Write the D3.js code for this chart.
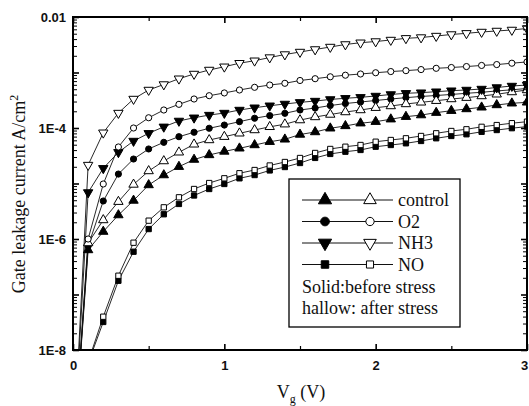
<!DOCTYPE html>
<html>
<head>
<meta charset="utf-8">
<script src="https://cdn.jsdelivr.net/npm/d3@7"></script>
<style>
  body { margin: 0; background: #fff; }
  svg { display: block; }
</style>
</head>
<body>
<svg id="chart" width="529" height="406"></svg>
<script>
// Gate voltage (V), one point every 0.1 V
const vg = [0, 0.1, 0.2, 0.3, 0.4, 0.5, 0.6, 0.7, 0.8, 0.9, 1.0,
            1.1, 1.2, 1.3, 1.4, 1.5, 1.6, 1.7, 1.8, 1.9, 2.0,
            2.1, 2.2, 2.3, 2.4, 2.5, 2.6, 2.7, 2.8, 2.9, 3.0];

// Leakage current density (A/cm^2)
const controlBefore = [1e-10, 6.34e-7, 1.36e-6, 2.70e-6, 4.94e-6, 9.4e-6, 1.42e-5, 2.01e-5, 2.70e-5, 3.27e-5, 3.78e-5,
    4.31e-5, 4.94e-5, 5.66e-5, 6.25e-5, 7.64e-5, 8.47e-5, 9.89e-5, 1.09e-4, 1.22e-4, 1.30e-4,
    1.44e-4, 1.60e-4, 1.71e-4, 1.89e-4, 2.05e-4, 2.20e-4, 2.36e-4, 2.60e-4, 2.79e-4, 2.90e-4];
const controlAfter = [1e-10, 8.47e-7, 2.2e-6, 4.7e-6, 9.6e-6, 1.68e-5, 2.54e-5, 3.65e-5, 5.08e-5, 6.08e-5, 6.97e-5,
    8.03e-5, 9.2e-5, 1.05e-4, 1.17e-4, 1.39e-4, 1.58e-4, 1.75e-4, 1.94e-4, 2.11e-4, 2.32e-4,
    2.49e-4, 2.71e-4, 2.90e-4, 3.10e-4, 3.33e-4, 3.52e-4, 3.77e-4, 4.05e-4, 4.45e-4, 4.84e-4];
const o2Before = [1e-10, 7.48e-7, 4.84e-6, 1.48e-5, 2.76e-5, 4.19e-5, 5.52e-5, 6.97e-5, 8.38e-5, 9.89e-5, 1.13e-4,
    1.30e-4, 1.50e-4, 1.67e-4, 1.84e-4, 2.11e-4, 2.29e-4, 2.54e-4, 2.76e-4, 2.94e-4, 3.13e-4,
    3.33e-4, 3.52e-4, 3.70e-4, 3.85e-4, 4.02e-4, 4.22e-4, 4.40e-4, 4.65e-4, 4.88e-4, 5.15e-4];
const o2After = [1e-10, 1.0e-6, 9.8e-6, 4.55e-5, 1.0e-4, 1.53e-4, 2.11e-4, 2.67e-4, 3.33e-4, 3.82e-4, 4.28e-4,
    4.84e-4, 5.41e-4, 5.95e-4, 6.39e-4, 7.18e-4, 7.73e-4, 8.37e-4, 8.94e-4, 9.4e-4, 9.9e-4,
    1.04e-3, 1.08e-3, 1.13e-3, 1.19e-3, 1.23e-3, 1.28e-3, 1.34e-3, 1.39e-3, 1.47e-3, 1.55e-3];
const nh3Before = [1e-10, 6.89e-6, 1.88e-5, 3.65e-5, 5.83e-5, 8.03e-5, 1.05e-4, 1.34e-4, 1.53e-4, 1.71e-4, 1.86e-4,
    2.11e-4, 2.32e-4, 2.52e-4, 2.71e-4, 2.90e-4, 3.06e-4, 3.27e-4, 3.43e-4, 3.57e-4, 3.77e-4,
    4.02e-4, 4.22e-4, 4.33e-4, 4.51e-4, 4.70e-4, 4.84e-4, 5.04e-4, 5.37e-4, 5.71e-4, 5.95e-4];
const nh3After = [1e-10, 2.15e-5, 8.22e-5, 1.86e-4, 3.33e-4, 4.84e-4, 6.08e-4, 7.73e-4, 9.4e-4, 1.11e-3, 1.27e-3,
    1.47e-3, 1.63e-3, 1.86e-3, 2.11e-3, 2.34e-3, 2.60e-3, 2.88e-3, 3.20e-3, 3.44e-3, 3.62e-3,
    3.85e-3, 4.13e-3, 4.27e-3, 4.54e-3, 4.84e-3, 5.08e-3, 5.37e-3, 5.60e-3, 5.84e-3, 6.21e-3];
const noBefore = [1e-10, 5.8e-9, 3.2e-8, 1.77e-7, 5.9e-7, 1.51e-6, 2.79e-6, 4.28e-6, 6.08e-6, 7.96e-6, 9.8e-6,
    1.24e-5, 1.42e-5, 1.72e-5, 1.98e-5, 2.34e-5, 2.89e-5, 3.41e-5, 3.74e-5, 4.02e-5, 4.6e-5,
    4.94e-5, 5.3e-5, 5.84e-5, 6.53e-5, 7.18e-5, 7.71e-5, 8.54e-5, 9.19e-5, 9.92e-5, 1.06e-4];
const noAfter = [1e-10, 6.08e-9, 3.98e-8, 2.18e-7, 8.57e-7, 2.14e-6, 3.72e-6, 5.64e-6, 7.96e-6, 1.02e-5, 1.24e-5,
    1.53e-5, 1.75e-5, 2.11e-5, 2.44e-5, 2.88e-5, 3.55e-5, 4.19e-5, 4.6e-5, 4.94e-5, 5.66e-5,
    6.08e-5, 6.52e-5, 7.18e-5, 8.03e-5, 8.83e-5, 9.48e-5, 1.05e-4, 1.13e-4, 1.22e-4, 1.30e-4];

// Axis ticks
const xMajorTicks = [0, 1, 2, 3];
const xMinorTicks = [0.5, 1.5, 2.5];
const yDecades = [1e-8, 1e-7, 1e-6, 1e-5, 1e-4, 1e-3, 1e-2];
const yTickLabels = { 1e-8: '1E-8', 1e-6: '1E-6', 1e-4: '1E-4', 1e-2: '0.01' };

// Legend entries
const legendNames = ['control', 'O2', 'NH3', 'NO'];
const legendNotes = ['Solid:before stress', 'hallow: after stress'];

const serif = '"Liberation Serif", "Times New Roman", serif';
const sans = '"Liberation Sans", Arial, sans-serif';

const svg = d3.select('#chart');
const plot = { left: 73, right: 527, top: 17, bottom: 350 };

const x = d3.scaleLinear().domain([0, 3]).range([plot.left, plot.right]);
const y = d3.scaleLog().domain([1e-8, 1e-2]).range([plot.bottom, plot.top]);

// Marker shapes
const shapes = {
    up:     { type: d3.symbolTriangle, rot: 0,   size: 38 },
    down:   { type: d3.symbolTriangle, rot: 180, size: 38 },
    circle: { type: d3.symbolCircle,   rot: 0,   size: 30 },
    square: { type: d3.symbolSquare,   rot: 0,   size: 28 }
};

// Drawing order matters where markers overlap on the right side
const series = [
    { values: noBefore,      shape: 'square', filled: true },
    { values: noAfter,       shape: 'square', filled: false },
    { values: controlBefore, shape: 'up',     filled: true },
    { values: o2Before,      shape: 'circle', filled: true },
    { values: controlAfter,  shape: 'up',     filled: false },
    { values: nh3Before,     shape: 'down',   filled: true },
    { values: o2After,       shape: 'circle', filled: false },
    { values: nh3After,      shape: 'down',   filled: false }
];

svg.append('defs').append('clipPath')
    .attr('id', 'plot-clip')
    .append('rect')
    .attr('x', plot.left)
    .attr('y', plot.top)
    .attr('width', plot.right - plot.left)
    .attr('height', plot.bottom - plot.top);

const dataLayer = svg.append('g').attr('clip-path', 'url(#plot-clip)');

const line = d3.line()
    .x((d, i) => x(vg[i]))
    .y(d => y(d));

// Lines first, then markers on top
series.forEach(s => {
    dataLayer.append('path')
        .datum(s.values)
        .attr('d', line)
        .attr('fill', 'none')
        .attr('stroke', '#111')
        .attr('stroke-width', 0.9);
});

function drawMarker(g, shapeKey, filled, cx, cy, scale) {
    const sh = shapes[shapeKey];
    g.append('path')
        .attr('d', d3.symbol().type(sh.type).size(sh.size * scale)())
        .attr('transform', `translate(${cx},${cy}) rotate(${sh.rot})`)
        .attr('fill', filled ? '#000' : '#fff')
        .attr('stroke', '#000')
        .attr('stroke-width', 1);
}

series.forEach(s => {
    const g = dataLayer.append('g');
    s.values.forEach((v, i) => {
        drawMarker(g, s.shape, s.filled, x(vg[i]), y(v), 1);
    });
});

// Axes (ticks point inward)
function styleAxis(g, width) {
    g.select('.domain').remove();
    g.selectAll('line').attr('stroke', '#000').attr('stroke-width', width);
    g.selectAll('text')
        .style('font-family', sans)
        .style('font-size', '13px')
        .style('font-weight', 'bold')
        .attr('fill', '#111');
}

svg.append('g')
    .attr('transform', `translate(0,${plot.bottom})`)
    .call(d3.axisBottom(x).tickValues(xMajorTicks).tickSize(-6).tickSizeOuter(0)
        .tickPadding(11).tickFormat(d3.format('d')))
    .call(g => styleAxis(g, 1.6))
    // last label sits on the window edge; nudge it in so it stays whole
    .call(g => g.selectAll('text').filter(d => d === 3).attr('x', -3));
svg.append('g')
    .attr('transform', `translate(0,${plot.bottom})`)
    .call(d3.axisBottom(x).tickValues(xMinorTicks).tickSize(-4).tickSizeOuter(0).tickFormat(''))
    .call(g => styleAxis(g, 1.2));
svg.append('g')
    .attr('transform', `translate(0,${plot.top})`)
    .call(d3.axisTop(x).tickValues(xMajorTicks).tickSize(-6).tickSizeOuter(0).tickFormat(''))
    .call(g => styleAxis(g, 1.6));
svg.append('g')
    .attr('transform', `translate(0,${plot.top})`)
    .call(d3.axisTop(x).tickValues(xMinorTicks).tickSize(-4).tickSizeOuter(0).tickFormat(''))
    .call(g => styleAxis(g, 1.2));

const yMinorTicks = y.ticks().filter(t => !yDecades.some(d => Math.abs(t / d - 1) < 1e-6));

svg.append('g')
    .attr('transform', `translate(${plot.left},0)`)
    .call(d3.axisLeft(y).tickValues(yDecades).tickSize(-6).tickSizeOuter(0)
        .tickPadding(7).tickFormat(d => yTickLabels[d] || ''))
    .call(g => styleAxis(g, 1.6));
svg.append('g')
    .attr('transform', `translate(${plot.left},0)`)
    .call(d3.axisLeft(y).tickValues(yMinorTicks).tickSize(-4).tickSizeOuter(0).tickFormat(''))
    .call(g => styleAxis(g, 1));
svg.append('g')
    .attr('transform', `translate(${plot.right},0)`)
    .call(d3.axisRight(y).tickValues(yDecades).tickSize(-6).tickSizeOuter(0).tickFormat(''))
    .call(g => styleAxis(g, 1.6));
svg.append('g')
    .attr('transform', `translate(${plot.right},0)`)
    .call(d3.axisRight(y).tickValues(yMinorTicks).tickSize(-4).tickSizeOuter(0).tickFormat(''))
    .call(g => styleAxis(g, 1));

// Frame
svg.append('rect')
    .attr('x', plot.left)
    .attr('y', plot.top)
    .attr('width', plot.right - plot.left)
    .attr('height', plot.bottom - plot.top)
    .attr('fill', 'none')
    .attr('stroke', '#000')
    .attr('stroke-width', 2);

// Axis titles
const yTitle = svg.append('text')
    .attr('transform', 'translate(25,194) rotate(-90)')
    .attr('text-anchor', 'middle')
    .style('font-family', serif)
    .style('font-size', '18px')
    .attr('fill', '#111');
yTitle.append('tspan').text('Gate leakage current A/cm');
yTitle.append('tspan').attr('dy', -7).style('font-size', '12px').text('2');

const xTitle = svg.append('text')
    .attr('x', 301)
    .attr('y', 398)
    .attr('text-anchor', 'middle')
    .style('font-family', serif)
    .style('font-size', '18px')
    .attr('fill', '#111');
xTitle.append('tspan').text('V');
xTitle.append('tspan').attr('dy', 5).style('font-size', '12px').text('g');
xTitle.append('tspan').attr('dy', -5).text(' (V)');

// Legend
const legend = svg.append('g').attr('class', 'chart-legend');
legend.append('rect')
    .attr('x', 289)
    .attr('y', 179)
    .attr('width', 171)
    .attr('height', 148)
    .attr('fill', '#fff')
    .attr('stroke', '#000')
    .attr('stroke-width', 1.3);

const legendShapes = ['up', 'circle', 'down', 'square'];
legendNames.forEach((name, i) => {
    const cy = 200 + i * 21.5;
    const item = legend.append('g');
    item.append('line')
        .attr('x1', 302).attr('x2', 393)
        .attr('y1', cy).attr('y2', cy)
        .attr('stroke', '#111')
        .attr('stroke-width', 1);
    drawMarker(item, legendShapes[i], true, 325, cy, 2);
    drawMarker(item, legendShapes[i], false, 370, cy, 1.8);
    item.append('text')
        .attr('x', 398)
        .attr('y', cy + 6)
        .style('font-family', serif)
        .style('font-size', '18px')
        .attr('fill', '#111')
        .text(name);
});
legendNotes.forEach((note, i) => {
    legend.append('text')
        .attr('x', 302)
        .attr('y', 293 + i * 21)
        .style('font-family', serif)
        .style('font-size', '18px')
        .attr('fill', '#111')
        .text(note);
});
</script>
</body>
</html>
